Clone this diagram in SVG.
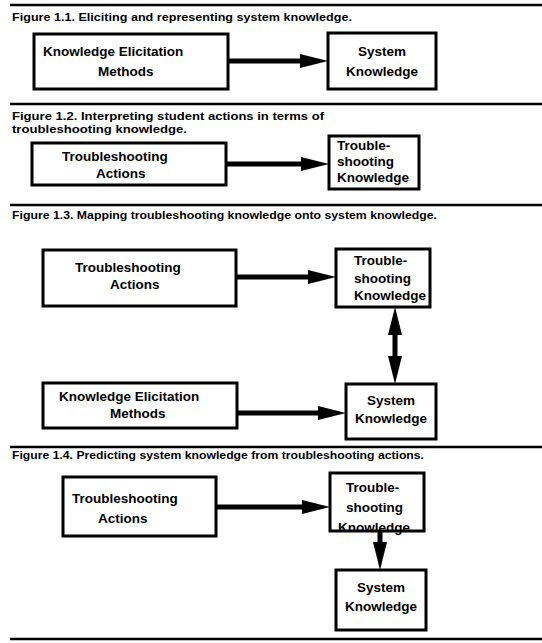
<svg xmlns="http://www.w3.org/2000/svg" width="542" height="643" viewBox="0 0 542 643">
<style>
.rule{stroke:#000;stroke-width:2.5;fill:none}
.box{fill:#fff;stroke:#000;stroke-width:3}
.cap{font-family:"Liberation Sans",Arial,sans-serif;font-weight:bold;font-size:10px;fill:#000}
.lbl{font-family:"Liberation Sans",Arial,sans-serif;font-weight:bold;font-size:13.5px;fill:#000}
.mid{text-anchor:middle}
.conn{stroke:#000;stroke-width:5;fill:none}
</style>
<defs>
<marker id="ah" markerUnits="userSpaceOnUse" markerWidth="30" markerHeight="18" refX="0" refY="9" orient="auto-start-reverse" overflow="visible">
<path d="M0,2 L28,9 L0,16 z" fill="#000"/>
</marker>
</defs>
<rect width="542" height="643" fill="#fff"/>
<g id="rules">
<line class="rule" x1="10" y1="5" x2="542" y2="5"/>
<line class="rule" x1="10" y1="104" x2="542" y2="104"/>
<line class="rule" x1="10" y1="205" x2="542" y2="205"/>
<line class="rule" x1="10" y1="447" x2="542" y2="447"/>
<line class="rule" x1="10" y1="639" x2="542" y2="639"/>
</g>
<g id="captions">
<text class="cap" x="12" y="21" textLength="340" lengthAdjust="spacingAndGlyphs">Figure 1.1.  Eliciting and representing system knowledge.</text>
<text class="cap" x="12" y="120" textLength="312" lengthAdjust="spacingAndGlyphs">Figure 1.2. Interpreting student actions in terms of</text>
<text class="cap" x="12" y="133" textLength="175" lengthAdjust="spacingAndGlyphs">troubleshooting knowledge.</text>
<text class="cap" x="12" y="219" textLength="425" lengthAdjust="spacingAndGlyphs">Figure 1.3.  Mapping troubleshooting knowledge onto system knowledge.</text>
<text class="cap" x="12" y="459" textLength="412" lengthAdjust="spacingAndGlyphs">Figure 1.4. Predicting system knowledge from troubleshooting actions.</text>
</g>
<g id="connectors">
<line class="conn" x1="228" y1="61" x2="300" y2="61" marker-end="url(#ah)"/>
<line class="conn" x1="226" y1="164" x2="301" y2="164" marker-end="url(#ah)"/>
<line class="conn" x1="236" y1="277" x2="308" y2="277" marker-end="url(#ah)"/>
<line class="conn" x1="237" y1="413" x2="318" y2="413" marker-end="url(#ah)"/>
<line class="conn" x1="395" y1="335" x2="395" y2="356" marker-start="url(#ah)" marker-end="url(#ah)"/>
<line class="conn" x1="216" y1="507" x2="302" y2="507" marker-end="url(#ah)"/>
<line class="conn" x1="380" y1="531" x2="380" y2="542" marker-end="url(#ah)"/>
</g>
<g id="f11-kem">
<rect class="box" x="34" y="34" width="194" height="55"/>
<text class="lbl" x="43" y="56">Knowledge Elicitation</text>
<text class="lbl" x="98" y="76">Methods</text>
</g>
<g id="f11-sk">
<rect class="box" x="328" y="33" width="108" height="56"/>
<text class="lbl mid" x="382" y="56">System</text>
<text class="lbl mid" x="382" y="76">Knowledge</text>
</g>
<g id="f12-ta">
<rect class="box" x="32" y="143" width="194" height="42"/>
<text class="lbl" x="62" y="161">Troubleshooting</text>
<text class="lbl" x="96" y="178">Actions</text>
</g>
<g id="f12-tk">
<rect class="box" x="329" y="136" width="90" height="53"/>
<text class="lbl" x="337" y="150">Trouble-</text>
<text class="lbl" x="337" y="166">shooting</text>
<text class="lbl" x="337" y="182">Knowledge</text>
</g>
<g id="f13-ta">
<rect class="box" x="43" y="250" width="193" height="56"/>
<text class="lbl" x="75" y="272">Troubleshooting</text>
<text class="lbl" x="110" y="289">Actions</text>
</g>
<g id="f13-tk">
<rect class="box" x="336" y="249" width="94" height="58"/>
<text class="lbl" x="354" y="265">Trouble-</text>
<text class="lbl" x="354" y="283">shooting</text>
<text class="lbl" x="354" y="300">Knowledge</text>
</g>
<g id="f13-kem">
<rect class="box" x="43" y="383" width="194" height="45"/>
<text class="lbl" x="59" y="401">Knowledge Elicitation</text>
<text class="lbl" x="110" y="418">Methods</text>
</g>
<g id="f13-sk">
<rect class="box" x="346" y="384" width="90" height="55"/>
<text class="lbl mid" x="391" y="405">System</text>
<text class="lbl mid" x="391" y="423">Knowledge</text>
</g>
<g id="f14-ta">
<rect class="box" x="63" y="477" width="153" height="59"/>
<text class="lbl" x="72" y="503">Troubleshooting</text>
<text class="lbl" x="98" y="523">Actions</text>
</g>
<g id="f14-tk">
<rect class="box" x="330" y="473" width="94" height="58"/>
<text class="lbl" x="346" y="492">Trouble-</text>
<text class="lbl" x="346" y="512">shooting</text>
<text class="lbl" x="338" y="532">Knowledge</text>
</g>
<g id="f14-sk">
<rect class="box" x="336" y="570" width="90" height="60"/>
<text class="lbl mid" x="381" y="592">System</text>
<text class="lbl mid" x="381" y="611">Knowledge</text>
</g>
</svg>
